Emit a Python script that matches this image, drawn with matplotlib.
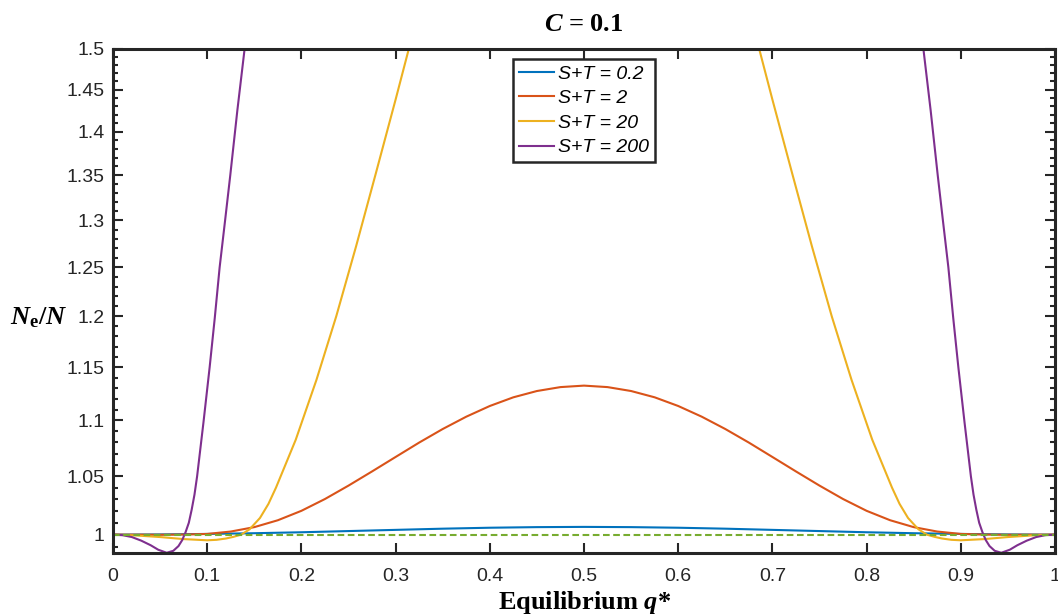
import numpy as np
import matplotlib
matplotlib.use('Agg')
import matplotlib.pyplot as plt
from matplotlib.ticker import FixedLocator, FixedFormatter, NullFormatter

# values
x_blue = [0, 0.05, 0.1, 0.15, 0.2, 0.25, 0.3, 0.35, 0.4, 0.45, 0.5,
          0.55, 0.6, 0.65, 0.7, 0.75, 0.8, 0.85, 0.9, 0.95, 1.0]
y_blue = [1.0, 1.0002, 1.0006, 1.0012, 1.0020, 1.0030, 1.0040, 1.0050, 1.0058, 1.0063, 1.0065,
          1.0063, 1.0058, 1.0050, 1.0040, 1.0030, 1.0020, 1.0012, 1.0006, 1.0002, 1.0]

x_orange = [0, 0.025, 0.05, 0.075, 0.1, 0.125, 0.15, 0.175, 0.2, 0.225, 0.25, 0.275, 0.3,
            0.325, 0.35, 0.375, 0.4, 0.425, 0.45, 0.475, 0.5,
            0.525, 0.55, 0.575, 0.6, 0.625, 0.65, 0.675, 0.7, 0.725, 0.75, 0.775, 0.8,
            0.825, 0.85, 0.875, 0.9, 0.925, 0.95, 0.975, 1.0]
y_orange = [1.0, 1.0, 0.9999, 1.0001, 1.0006, 1.0026, 1.0063, 1.0121, 1.0201, 1.0302, 1.0418, 1.0542, 1.0670,
            1.0799, 1.0922, 1.1035, 1.1134, 1.1215, 1.1274, 1.1311, 1.1325,
            1.1311, 1.1274, 1.1215, 1.1134, 1.1035, 1.0922, 1.0799, 1.0670, 1.0542, 1.0418, 1.0302, 1.0201,
            1.0121, 1.0063, 1.0026, 1.0006, 1.0001, 0.9999, 1.0, 1.0]

x_yellow = [0, 0.025, 0.05, 0.075, 0.1, 0.11, 0.12, 0.128, 0.136, 0.145, 0.156, 0.165, 0.173,
            0.183, 0.194, 0.216, 0.237, 0.258, 0.279, 0.3, 0.314, 0.325, np.nan,
            0.675, 0.686, 0.7, 0.721, 0.742, 0.763, 0.784, 0.806, 0.817, 0.827,
            0.835, 0.844, 0.855, 0.864, 0.872, 0.88, 0.89, 0.9, 0.925, 0.95, 0.975, 1.0]
y_yellow = [1.0, 0.9993, 0.9980, 0.9963, 0.9953, 0.9957, 0.9968, 0.9982, 1.0, 1.0045, 1.014, 1.026, 1.040,
            1.060, 1.0825, 1.138, 1.20, 1.272, 1.352, 1.438, 1.5, 1.55, np.nan,
            1.55, 1.5, 1.438, 1.352, 1.272, 1.20, 1.138, 1.0825, 1.060, 1.040,
            1.026, 1.014, 1.0045, 1.0, 0.9982, 0.9968, 0.9957, 0.9953, 0.9963, 0.9980, 0.9993, 1.0]

x_purple = [0, 0.01, 0.02, 0.03, 0.04, 0.048, 0.057, 0.064, 0.0695, 0.0735, 0.077, 0.0805, 0.0835,
            0.0865, 0.0893, 0.096, 0.1026, 0.108, 0.1132, 0.119, 0.1245, 0.132, 0.1397, 0.146, np.nan,
            0.854, 0.8603, 0.868, 0.8755, 0.881, 0.8868, 0.892, 0.8974, 0.904, 0.9107,
            0.9135, 0.9165, 0.9195, 0.923, 0.9265, 0.9305, 0.936, 0.943, 0.952, 0.96, 0.97, 0.98, 0.99, 1.0]
y_purple = [1.0, 0.9996, 0.9980, 0.9950, 0.9912, 0.9875, 0.9850, 0.9866, 0.9905, 0.9955, 1.002, 1.010, 1.021,
            1.034, 1.05, 1.098, 1.15, 1.198, 1.25, 1.30, 1.35, 1.425, 1.5, 1.565, np.nan,
            1.565, 1.5, 1.425, 1.35, 1.30, 1.25, 1.198, 1.15, 1.098, 1.05,
            1.034, 1.021, 1.010, 1.002, 0.9955, 0.9905, 0.9866, 0.9850, 0.9875, 0.9912, 0.9950, 0.9980, 0.9996, 1.0]

labels = ['S+T = 0.2', 'S+T = 2', 'S+T = 20', 'S+T = 200']
colors = ['#0072BD', '#D95319', '#EDB120', '#7E2F8E']

yticks = [1, 1.05, 1.1, 1.15, 1.2, 1.25, 1.3, 1.35, 1.4, 1.45, 1.5]
ytick_labels = ['1', '1.05', '1.1', '1.15', '1.2', '1.25', '1.3', '1.35', '1.4', '1.45', '1.5']
yminor = [0.99] + [round(1 + 0.01 * i, 2) for i in range(1, 50) if i % 5 != 0]
xticks = [0, 0.1, 0.2, 0.3, 0.4, 0.5, 0.6, 0.7, 0.8, 0.9, 1]
xtick_labels = ['0', '0.1', '0.2', '0.3', '0.4', '0.5', '0.6', '0.7', '0.8', '0.9', '1']

plt.rcParams['font.family'] = ['Liberation Sans', 'DejaVu Sans']
plt.rcParams['mathtext.fontset'] = 'custom'
plt.rcParams['mathtext.rm'] = 'Liberation Serif:bold'
plt.rcParams['mathtext.bf'] = 'Liberation Serif:bold'
plt.rcParams['mathtext.it'] = 'Liberation Serif:italic:bold'

fig = plt.figure(figsize=(10.58, 6.15), dpi=100)
ax = fig.add_axes([113 / 1058, 1 - 553 / 615, 942 / 1058, 504 / 615])

series = [(x_blue, y_blue), (x_orange, y_orange), (x_yellow, y_yellow), (x_purple, y_purple)]
for (xs, ys), c, lab in zip(series, colors, labels):
    ax.plot(xs, ys, color=c, lw=1.5, label=lab)
ax.plot([0, 1], [1, 1], color='#77AC30', lw=1.5, ls=(0, (3.2, 1.7)))

ax.set_yscale('log')
ax.set_xlim(0, 1)
ax.set_ylim(0.9848, 1.5)
ax.yaxis.set_major_locator(FixedLocator(yticks))
ax.yaxis.set_major_formatter(FixedFormatter(ytick_labels))
ax.yaxis.set_minor_locator(FixedLocator(yminor))
ax.yaxis.set_minor_formatter(NullFormatter())
ax.xaxis.set_major_locator(FixedLocator(xticks))
ax.xaxis.set_major_formatter(FixedFormatter(xtick_labels))
ax.xaxis.set_minor_locator(FixedLocator([]))

ax.tick_params(which='both', direction='in', top=True, right=True, width=1.5, colors='#262626',
               labelsize=14, labelcolor='#262626')
ax.tick_params(which='major', length=7)
ax.tick_params(which='minor', length=3.5)
ax.tick_params(axis='x', pad=11)
ax.tick_params(axis='y', pad=6)
for s in ax.spines.values():
    s.set_linewidth(2.2)
    s.set_color('#262626')

ax.set_title(r'$C$ = 0.1', fontfamily='Liberation Serif', fontweight='bold', fontsize=19, pad=13)
fig.text(585 / 1058, 1 - 603 / 615, r'Equilibrium $q$*', fontfamily='Liberation Serif',
         fontweight='bold', fontsize=19, ha='center', va='center')
fig.text(39 / 1058, 1 - 318 / 615, r'$N_{\mathrm{e}}/N$', fontsize=19, ha='center', va='center')

leg = ax.legend(loc='upper center', bbox_to_anchor=(0.5, 0.98), borderaxespad=0,
                prop={'family': 'Liberation Sans', 'style': 'italic', 'size': 14},
                handlelength=1.8, handletextpad=0.2, labelspacing=0.36, borderpad=0.3,
                fancybox=False, framealpha=1)
leg.get_frame().set_edgecolor('#262626')
leg.get_frame().set_linewidth(1.8)

fig.savefig('out.png', dpi=100)
